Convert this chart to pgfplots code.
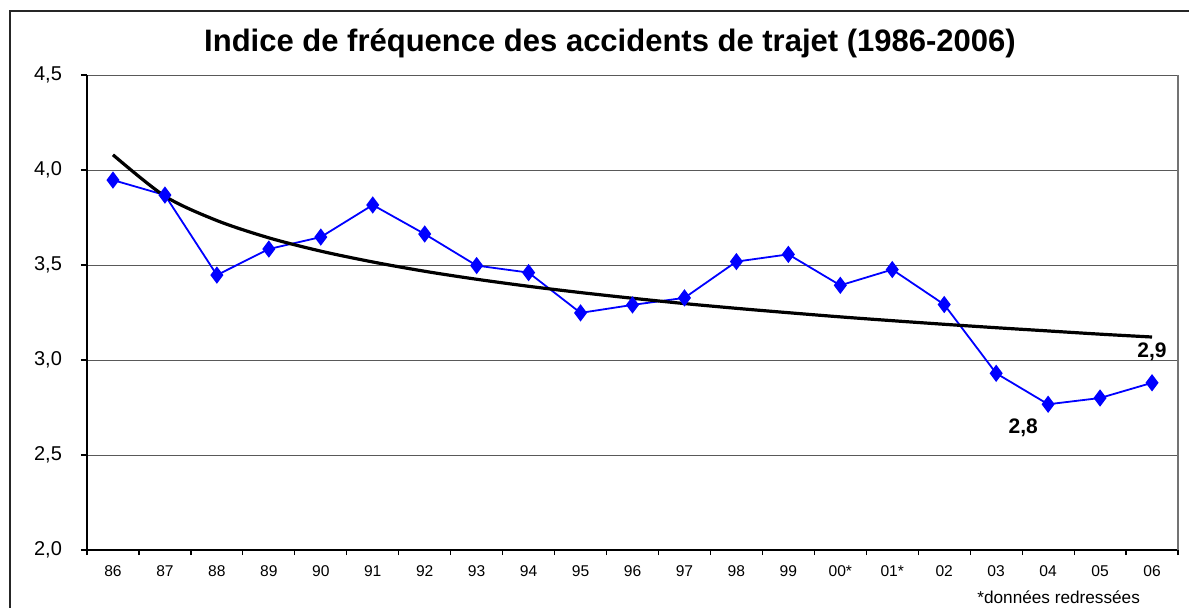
\documentclass[border=0pt]{standalone}
\usepackage{pgfplots}
\pgfplotsset{compat=1.18}
\usepackage{fontspec}
\setmainfont{Liberation Sans}
\begin{document}
\begin{tikzpicture}[x=0.5pt,y=0.5pt]
\useasboundingbox (0,0) rectangle (1189,607);
\draw[black!85, line width=0.8pt] (10,-20) -- (10,596) -- (1210,596);
\node[font=\fontsize{15.5}{18}\selectfont\bfseries] at (610,564) {Indice de fréquence des accidents de trajet (1986-2006)};
\node[font=\fontsize{8.6}{10}\selectfont, anchor=east] at (1147,10) {*données redressées};
\begin{axis}[
  at={(43.5pt,28.5pt)}, anchor=south west,
  scale only axis, width=545.5pt, height=237.5pt,
  xmin=-0.5, xmax=20.5, ymin=2, ymax=4.5,
  axis lines=left, axis line style={-, black, line width=0.9pt},
  xtick={0,...,20},
  xticklabels={86,87,88,89,90,91,92,93,94,95,96,97,98,99,00*,01*,02,03,04,05,06},
  minor xtick={-0.5,0.5,...,20.5},
  every major x tick/.append style={draw=none},
  ytick={2,2.5,3,3.5,4,4.5},
  tick align=outside, major tick length=3pt, minor tick length=2.5pt,
  tick style={black, line width=0.6pt},
  ymajorgrids, grid style={black!65, line width=0.5pt},
  /pgf/number format/assume math mode=true,
  /pgf/number format/use comma, /pgf/number format/fixed,
  /pgf/number format/precision=1, /pgf/number format/fixed zerofill,
  y tick label style={font=\fontsize{10}{12}\selectfont, anchor=east, xshift=-6pt},
  x tick label style={font=\fontsize{7.8}{9}\selectfont, yshift=-1.5pt},
  clip=false,
]
\addplot[blue, line width=0.9pt, mark=diamond*, mark size=3.6pt, mark options={solid, fill=blue}] coordinates {
(0,3.947) (1,3.868) (2,3.447) (3,3.584) (4,3.647) (5,3.816) (6,3.663) (7,3.497)
(8,3.460) (9,3.248) (10,3.290) (11,3.327) (12,3.518) (13,3.556) (14,3.393)
(15,3.476) (16,3.292) (17,2.930) (18,2.767) (19,2.800) (20,2.880)};
\addplot[black, line width=1.6pt, smooth] coordinates {
(0,4.080) (1,3.862) (2,3.734) (3,3.643) (4,3.573) (5,3.516) (6,3.467) (7,3.425)
(8,3.388) (9,3.355) (10,3.325) (11,3.297) (12,3.272) (13,3.249) (14,3.227)
(15,3.207) (16,3.188) (17,3.170) (18,3.153) (19,3.136) (20,3.121)};
\draw[black!55, line width=0.8pt] (rel axis cs:1,0) -- (rel axis cs:1,1);
\node[font=\fontsize{10.5}{12}\selectfont\bfseries] at (axis cs:17.52,2.642) {2,8};
\node[font=\fontsize{10.5}{12}\selectfont\bfseries] at (axis cs:20.0,3.042) {2,9};
\end{axis}
\end{tikzpicture}
\end{document}
